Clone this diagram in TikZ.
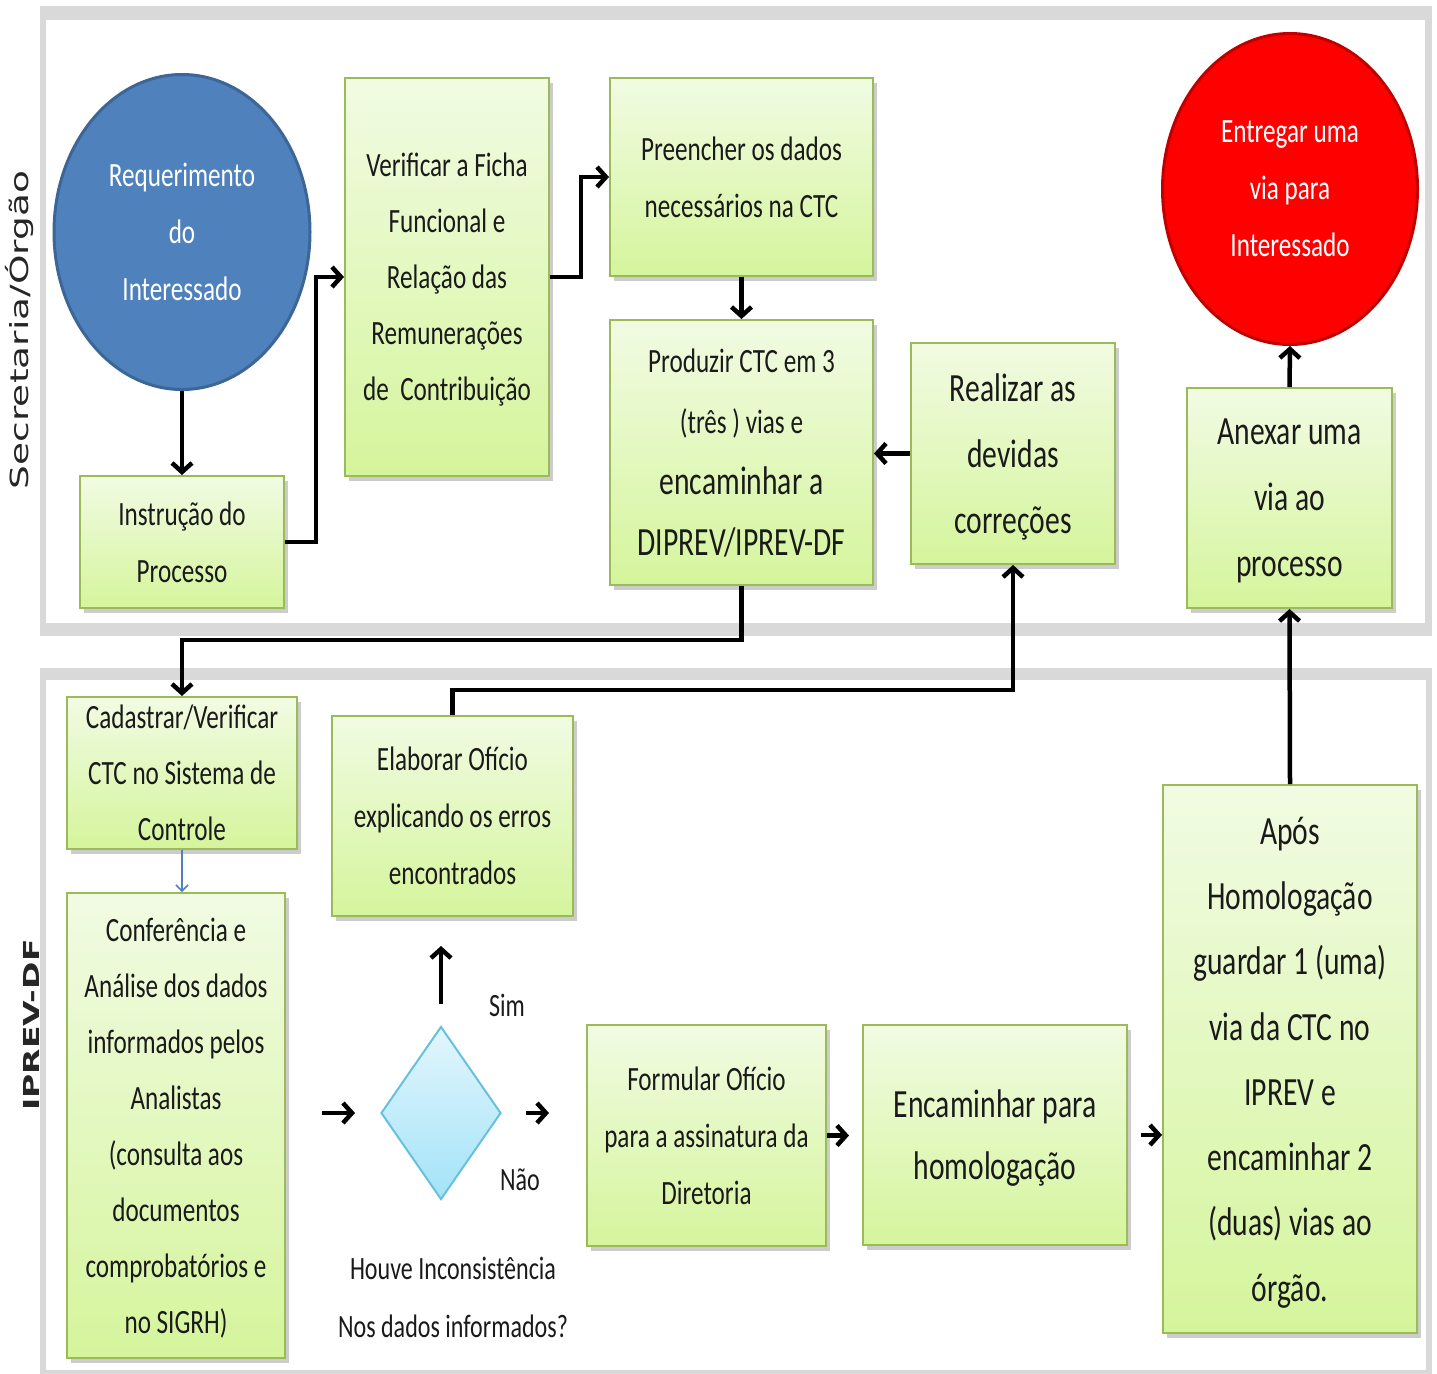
\documentclass[tikz,border=0pt]{standalone}
\usepackage{fontspec}
\setmainfont{Carlito}[FakeStretch=0.74]
\newfontfamily\lanefont{DejaVu Sans}[FakeStretch=1.5]
\usetikzlibrary{arrows.meta,shapes.geometric,shadows,calc}

\definecolor{lanegray}{HTML}{D9D9D9}
\definecolor{boxtop}{HTML}{F1FBE3}
\definecolor{boxbot}{HTML}{D5F59C}
\definecolor{boxline}{HTML}{9BBB59}
\definecolor{reqblue}{HTML}{4F81BD}
\definecolor{reqline}{HTML}{3C6696}
\definecolor{endred}{HTML}{FF0000}
\definecolor{endline}{HTML}{C00000}
\definecolor{diatop}{HTML}{E2F6FD}
\definecolor{diabot}{HTML}{A3E3F8}
\definecolor{dialine}{HTML}{67C1DD}
\definecolor{txt}{HTML}{1A1A1A}

\newcommand\boxfont{\fontsize{34}{57}\selectfont}
\newcommand\boxfontbig{\fontsize{40}{65}\selectfont}

\tikzset{
  stepbox/.style={draw=boxline, line width=2pt, top color=boxtop, bottom color=boxbot,
    text=txt, align=center, inner sep=0pt, font=\boxfont, text depth=0pt,
    drop shadow={shadow xshift=4pt, shadow yshift=-5pt, fill=black, opacity=0.2}},
  terminal/.style={ellipse, line width=3pt, align=center, inner sep=0pt,
    text=white, font=\boxfont},
  decision/.style={diamond, draw=dialine, line width=2pt, top color=diatop,
    bottom color=diabot, inner sep=0pt},
  lanelabel/.style={rotate=90, text=black!85, inner sep=0pt},
  flow/.style={line width=4.5pt, black, -{Straight Barb[length=9pt,width=20pt]}},
  thinflow/.style={line width=1.5pt, reqblue, -{Straight Barb[length=6pt,width=12pt]}},
  plainlabel/.style={text=txt, align=center, inner sep=0pt, font=\fontsize{32.5}{58}\selectfont}
}

\begin{document}
\begin{tikzpicture}[x=1pt,y=-1pt]
\useasboundingbox (0,0) rectangle (1437,1373);

% swimlanes
\fill[lanegray] (40,6) rectangle (1432,636);
\fill[white] (46,20) rectangle (1425,623);
\fill[lanegray] (40,668) rectangle (1432,1385);
\fill[white] (46,680) rectangle (1426,1370);

\node[lanelabel, font=\lanefont\fontsize{25}{30}\selectfont] (laneA) at (20,330) {Secretaria/Órgão};
\node[lanelabel, font=\lanefont\bfseries\fontsize{22}{26}\selectfont] (laneB) at (31,1025) {IPREV-DF};

% upper lane
\node[terminal, draw=reqline, fill=reqblue, minimum width=256, minimum height=315]
  (req) at (182,232) {Requerimento\\do\\Interessado};
\node[stepbox, minimum width=204, minimum height=132] (instr) at (182,542)
  {Instrução do\\Processo};
\node[stepbox, minimum width=204, minimum height=398, font=\fontsize{34}{56}\selectfont]
  (verif) at (447,277)
  {Verificar a Ficha\\Funcional e\\Relação das\\Remunerações\\de~~Contribuição};
\node[stepbox, minimum width=263, minimum height=198] (preen) at (741.5,177)
  {Preencher os dados\\necessários na CTC};
\node[stepbox, minimum width=263, minimum height=265, font=\fontsize{34}{61}\selectfont]
  (prod) at (741.5,452.5)
  {Produzir CTC em 3\\(três ) vias e\\\fontsize{40}{61}\selectfont encaminhar a\\\fontsize{40}{61}\selectfont DIPREV/IPREV-DF};
\node[stepbox, minimum width=204, minimum height=221, font=\fontsize{40}{66}\selectfont]
  (real) at (1013,453.5) {Realizar as\\devidas\\correções};
\node[stepbox, minimum width=205, minimum height=220, font=\fontsize{40}{66}\selectfont]
  (anex) at (1289.5,498) {Anexar uma\\via ao\\processo};
\node[terminal, draw=endline, fill=endred, minimum width=255, minimum height=311]
  (entr) at (1290,189) {Entregar uma\\via para\\Interessado};

% lower lane
\node[stepbox, minimum width=230, minimum height=152, font=\fontsize{34}{56}\selectfont]
  (cad) at (182,773) {Cadastrar/Verificar\\CTC no Sistema de\\Controle};
\node[stepbox, minimum width=218, minimum height=465, font=\fontsize{34}{56}\selectfont]
  (conf) at (176,1125.5) {Conferência e\\Análise dos dados\\informados pelos\\Analistas\\(consulta aos\\documentos\\comprobatórios e\\no SIGRH)};
\node[stepbox, minimum width=241, minimum height=200] (elab) at (452.5,816)
  {Elaborar Ofício\\explicando os erros\\encontrados};
\node[decision, minimum width=120, minimum height=173] (dec) at (441,1113) {};
\node[stepbox, minimum width=239, minimum height=221] (form) at (706.5,1135.5)
  {Formular Ofício\\para a assinatura da\\Diretoria};
\node[stepbox, minimum width=264, minimum height=220, font=\fontsize{40}{62}\selectfont]
  (enc) at (995,1135) {Encaminhar para\\homologação};
\node[stepbox, minimum width=254, minimum height=548, font=\fontsize{40}{65.3}\selectfont]
  (apos) at (1290,1059) {Após\\Homologação\\guardar 1 (uma)\\via da CTC no\\IPREV e\\encaminhar 2\\(duas) vias ao\\órgão.};

\node[plainlabel] (sim) at (507,1005) {Sim};
\node[plainlabel] (nao) at (520,1180) {Não};
\node[plainlabel] (quest) at (453,1297) {Houve Inconsistência\\Nos dados informados?};

% bend points of the long connectors
\coordinate (downlevel) at (0,640);
\coordinate (uplevel) at (0,690);

% connectors
\draw[flow] (req.south) -- (instr.north);
\draw[flow] (instr.east) -- ++(31,0) |- (verif.west);
\draw[flow] (verif.east) -- ++(31,0) |- (preen.west);
\draw[flow] (preen.south) -- (prod.north);
\draw[flow] (real.west) -- (prod.east |- real.west);
\draw[flow] (prod.south) -- (prod.south |- downlevel) -| (cad.north);
\draw[flow] (elab.north) -- (elab.north |- uplevel) -| (real.south);
\draw[thinflow] (cad.south) -- (cad.south |- conf.north);
\draw[flow, shorten <=36pt, shorten >=25pt] (conf.east |- dec.west) -- (dec.west);
\draw[flow, shorten <=24pt, shorten >=37pt] (dec.east) -- (form.west |- dec.east);
\draw[flow, shorten <=22pt, shorten >=29pt] (dec.north) -- (dec.north |- elab.south);
\draw[flow, shorten >=13pt] (form.east) -- (enc.west |- form.east);
\draw[flow, shorten <=13pt] (enc.east) -- (apos.west |- enc.east);
\draw[flow] (apos.north) -- (anex.south);
\draw[flow] (anex.north) -- (entr.south);
\end{tikzpicture}
\end{document}
